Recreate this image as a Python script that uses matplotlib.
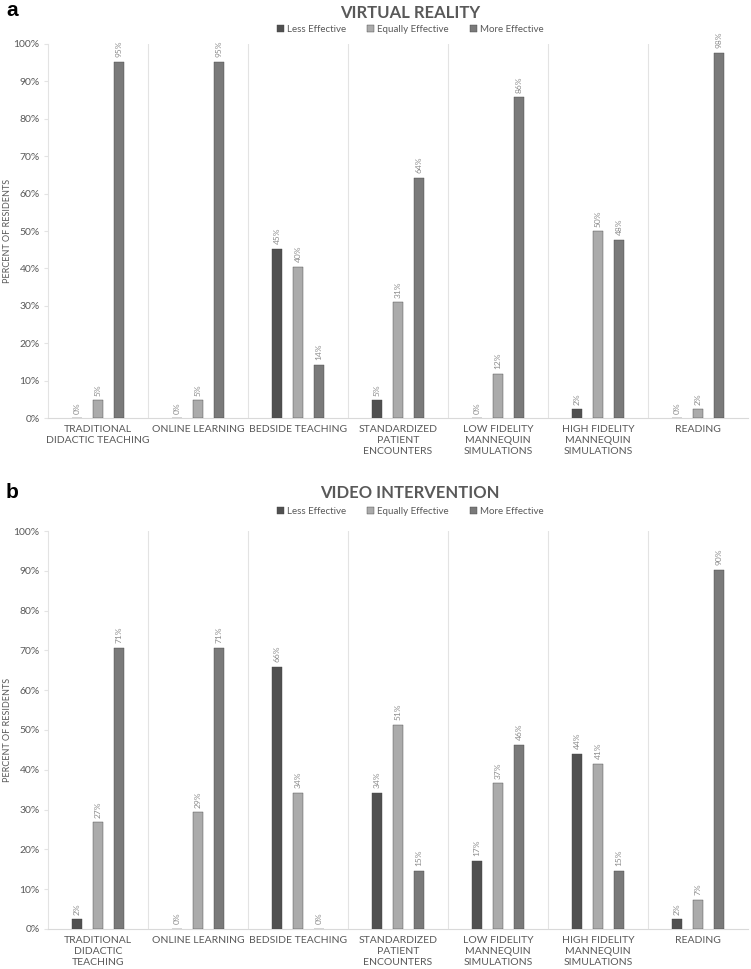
import matplotlib

matplotlib.use("Agg")
import matplotlib.pyplot as plt
import numpy as np

# ---- Data --------------------------------------------------------------
series_names = ["Less Effective", "Equally Effective", "More Effective"]

cats_vr = ["TRADITIONAL\nDIDACTIC TEACHING", "ONLINE LEARNING", "BEDSIDE TEACHING",
           "STANDARDIZED\nPATIENT\nENCOUNTERS", "LOW FIDELITY\nMANNEQUIN\nSIMULATIONS",
           "HIGH FIDELITY\nMANNEQUIN\nSIMULATIONS", "READING"]
cats_vid = ["TRADITIONAL\nDIDACTIC\nTEACHING", "ONLINE LEARNING", "BEDSIDE TEACHING",
            "STANDARDIZED\nPATIENT\nENCOUNTERS", "LOW FIDELITY\nMANNEQUIN\nSIMULATIONS",
            "HIGH FIDELITY\nMANNEQUIN\nSIMULATIONS", "READING"]

vr_less = [0.0, 0.0, 45.2, 4.8, 0.0, 2.4, 0.0]
vr_equal = [4.8, 4.8, 40.5, 31.0, 11.9, 50.0, 2.4]
vr_more = [95.2, 95.2, 14.3, 64.3, 85.7, 47.6, 97.6]

vid_less = [2.4, 0.0, 65.9, 34.1, 17.1, 43.9, 2.4]
vid_equal = [26.8, 29.3, 34.1, 51.2, 36.6, 41.4, 7.3]
vid_more = [70.7, 70.7, 0.0, 14.6, 46.3, 14.6, 90.2]

# ---- Style -------------------------------------------------------------
DARK = "#505050"
LIGHT = "#ABABAB"
MID = "#7A7A7A"
TXT = "#595959"
SEP = "#E3E3E3"
COLORS = [DARK, LIGHT, MID]
FONT = ["Lato", "DejaVu Sans"]

plt.rcParams.update({
    "font.family": FONT,
    "text.color": TXT,
    "axes.labelcolor": TXT,
    "xtick.color": TXT,
    "ytick.color": TXT,
})


def panel(fig, rect, cats, series, title, letter, title_y, legend_y, letter_y):
    ax = fig.add_axes(rect)
    n = len(cats)
    x = np.arange(n)
    offsets = [-0.21, 0.0, 0.21]
    w = 0.105
    for vals, off, col, name in zip(series, offsets, COLORS, series_names):
        bars = ax.bar(x + off, vals, width=w, color=col, edgecolor="#444444",
                      linewidth=0.3, label=name, zorder=3)
        for b, v in zip(bars, vals):
            ax.text(b.get_x() + b.get_width() / 2, v + 1.2, f"{round(v):.0f}%",
                    rotation=90, ha="center", va="bottom", fontsize=6, color="#8C8C8C")
    for k in range(1, n):
        ax.axvline(k - 0.5, color=SEP, lw=0.8, zorder=1)
    ax.set_xlim(-0.5, n - 0.5)
    ax.set_ylim(0, 100)
    ax.set_yticks(np.arange(0, 101, 10))
    ax.set_yticklabels([f"{t}%" for t in range(0, 101, 10)], fontsize=7.5)
    ax.set_xticks(x)
    ax.set_xticklabels(cats, fontsize=7.5, linespacing=1.3)
    ax.tick_params(axis="x", length=0, pad=5)
    ax.tick_params(axis="y", length=3, color=SEP, pad=3)
    for s in ["top", "right"]:
        ax.spines[s].set_visible(False)
    ax.spines["left"].set_color(SEP)
    ax.spines["bottom"].set_color("#D9D9D9")
    ax.set_ylabel("PERCENT OF RESIDENTS", fontsize=6.5, color=TXT)
    ax.yaxis.set_label_coords(-0.051, 0.5)
    fig.text(0.546, title_y, title, ha="center", va="center", fontsize=12,
             fontweight="bold", color=TXT)
    fig.text(0.008, letter_y, letter, ha="left", va="center", fontsize=15,
             fontweight="bold", color="black", family=["Liberation Sans", "DejaVu Sans"])
    fig.legend(*ax.get_legend_handles_labels(), loc="center",
               bbox_to_anchor=(0.546, legend_y), ncol=3, frameon=False, fontsize=7,
               handlelength=0.7, handleheight=0.7, handletextpad=0.3, columnspacing=2.2)
    return ax


fig = plt.figure(figsize=(7.51, 9.69), dpi=100)
panel(fig, [0.0639, 0.5686, 0.932, 0.386], cats_vr,
      [vr_less, vr_equal, vr_more], "VIRTUAL REALITY", "a",
      1 - 13 / 969, 1 - 29 / 969, 1 - 11 / 969)
panel(fig, [0.0639, 0.0413, 0.932, 0.4107], cats_vid,
      [vid_less, vid_equal, vid_more], "VIDEO INTERVENTION", "b",
      1 - 493 / 969, 1 - 511 / 969, 1 - 492 / 969)

fig.savefig("out.png", dpi=100, facecolor="white")
